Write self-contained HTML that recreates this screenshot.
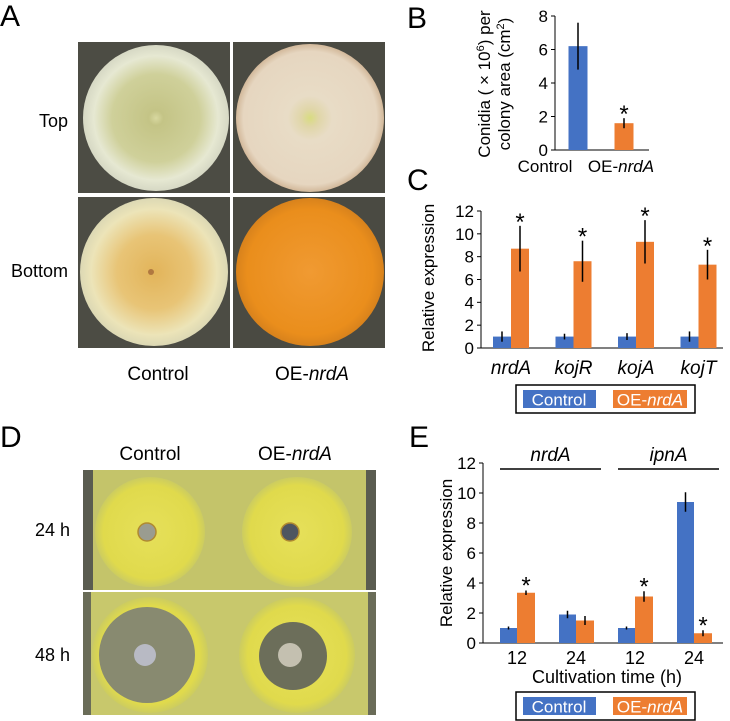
<!DOCTYPE html>
<html><head><meta charset="utf-8"><style>
html,body{margin:0;padding:0;background:#fff;}
svg{display:block;font-family:"Liberation Sans",Arial,sans-serif;}
</style></head><body>
<svg id="fig" width="730" height="721" viewBox="0 0 730 721" xmlns="http://www.w3.org/2000/svg">
<defs>
<radialGradient id="gTL"><stop offset="0" stop-color="#d8d8a0"/><stop offset="0.1" stop-color="#c4c486"/><stop offset="0.6" stop-color="#cfd09a"/><stop offset="0.85" stop-color="#e6e8d2"/><stop offset="1" stop-color="#d6d8c4"/></radialGradient>
<radialGradient id="gTR"><stop offset="0" stop-color="#d8dc80"/><stop offset="0.12" stop-color="#e0d6a8"/><stop offset="0.3" stop-color="#e8dcc6"/><stop offset="0.9" stop-color="#e6d6c0"/><stop offset="1" stop-color="#d2b89a"/></radialGradient>
<radialGradient id="gBL"><stop offset="0" stop-color="#e2b45a"/><stop offset="0.5" stop-color="#e8c476"/><stop offset="0.85" stop-color="#ece4b8"/><stop offset="1" stop-color="#dcd8b4"/></radialGradient>
<radialGradient id="gBR"><stop offset="0" stop-color="#f09a32"/><stop offset="0.85" stop-color="#ea8e1c"/><stop offset="1" stop-color="#d8821c"/></radialGradient>
<radialGradient id="gHalo"><stop offset="0" stop-color="#e6e05a"/><stop offset="0.85" stop-color="#e0da4c"/><stop offset="1" stop-color="#cccc60"/></radialGradient>
</defs>

<!-- Panel A -->
<text x="0" y="26" font-size="30">A</text>
<g>
<rect x="78" y="42" width="307" height="306" fill="#fff"/>
<rect x="78" y="42" width="152" height="151" fill="#4c4c44"/>
<circle cx="156" cy="118" r="73" fill="url(#gTL)"/>
<rect x="233" y="42" width="152" height="151" fill="#4a4a42"/>
<circle cx="310" cy="118" r="74" fill="url(#gTR)"/>
<rect x="78" y="197" width="152" height="151" fill="#4c4c44"/>
<circle cx="154" cy="272" r="74" fill="url(#gBL)"/>
<circle cx="151" cy="272" r="3" fill="#b07840"/>
<rect x="233" y="197" width="152" height="151" fill="#4a4a42"/>
<circle cx="310" cy="272" r="74" fill="url(#gBR)"/>
</g>
<text x="68" y="127" font-size="18" text-anchor="end">Top</text>
<text x="68" y="277" font-size="18" text-anchor="end">Bottom</text>
<text x="158" y="380" font-size="19" text-anchor="middle">Control</text>
<text x="312" y="380" font-size="19" text-anchor="middle">OE-<tspan font-style="italic">nrdA</tspan></text>

<!-- Panel D -->
<text x="0" y="447" font-size="30">D</text>
<text x="150" y="460" font-size="19" text-anchor="middle">Control</text>
<text x="295" y="460" font-size="19" text-anchor="middle">OE-<tspan font-style="italic">nrdA</tspan></text>
<text x="70" y="536" font-size="18" text-anchor="end">24 h</text>
<text x="70" y="661" font-size="18" text-anchor="end">48 h</text>
<g>
<rect x="83" y="470" width="293" height="120" fill="#c4c46a"/>
<rect x="83" y="470" width="10" height="120" fill="#5a5c50"/>
<rect x="366" y="470" width="10" height="120" fill="#5a5c50"/>
<circle cx="150" cy="532" r="55" fill="url(#gHalo)"/>
<circle cx="297" cy="532" r="55" fill="url(#gHalo)"/>
<circle cx="147" cy="532" r="9" fill="#9a9c90" stroke="#b08a30" stroke-width="1.5"/>
<circle cx="290" cy="532" r="9" fill="#4e5660" stroke="#b08a30" stroke-width="1.5"/>
<rect x="83" y="592" width="293" height="123" fill="#c8c86c"/>
<rect x="83" y="592" width="8" height="123" fill="#6a6c58"/>
<rect x="368" y="592" width="8" height="123" fill="#6a6c58"/>
<circle cx="150" cy="655" r="58" fill="url(#gHalo)"/>
<circle cx="147" cy="655" r="48" fill="#888a70"/>
<circle cx="297" cy="655" r="58" fill="url(#gHalo)"/>
<circle cx="293" cy="656" r="34" fill="#6c6e5a"/>
<circle cx="145" cy="655" r="11" fill="#b8bac4"/>
<circle cx="290" cy="655" r="12" fill="#c4c0b0"/>
</g>

<!-- Panel letters B, C, E -->
<text x="407" y="28" font-size="30">B</text>
<text x="407" y="190" font-size="30">C</text>
<text x="409" y="447" font-size="30">E</text>
<g id="chartB"></g>
<g id="chartC"></g>
<g id="chartE"></g>
</svg>
<script>
const bCategories = ["Control", "OE-nrdA"];
const bValues = [6.2, 1.6];
const bErrors = [1.4, 0.3];
const bStars = [false, true];
const bTicks = [0, 2, 4, 6, 8];

const cCategories = ["nrdA", "kojR", "kojA", "kojT"];
const cControl = [1, 1, 1, 1];
const cControlErr = [0.45, 0.25, 0.3, 0.45];
const cOE = [8.7, 7.6, 9.3, 7.3];
const cOEErr = [2.0, 1.8, 1.9, 1.3];
const cTicks = [0, 2, 4, 6, 8, 10, 12];

const eCategories = ["12", "24", "12", "24"];
const eGenes = ["nrdA", "ipnA"];
const eControl = [1, 1.9, 1, 9.4];
const eControlErr = [0.1, 0.25, 0.1, 0.65];
const eOE = [3.35, 1.5, 3.1, 0.65];
const eOEErr = [0.15, 0.3, 0.35, 0.2];
const eStars = [true, false, true, true];
const eTicks = [0, 2, 4, 6, 8, 10, 12];

const NS = "http://www.w3.org/2000/svg";
const BLUE = "#4472c4", ORANGE = "#ed7d31";
function mk(parent, tag, attrs, txt) {
  const e = document.createElementNS(NS, tag);
  for (const k in attrs) e.setAttribute(k, attrs[k]);
  if (txt !== undefined) e.textContent = txt;
  parent.appendChild(e);
  return e;
}
function yScale(y0px, y1px, max) { return v => y0px - (v / max) * (y0px - y1px); }

function axes(g, x0, x1, y, ticks, max, fs) {
  let e = mk(g, "line", {x1: x0, y1: y(0), x2: x0, y2: y(max), stroke: "#000", "stroke-width": 1});
  
  
  e = mk(g, "line", {x1: x0, y1: y(0), x2: x1, y2: y(0), stroke: "#000", "stroke-width": 1});
  
  
  ticks.forEach(t => {
    mk(g, "line", {x1: x0 - 4, y1: y(t), x2: x0, y2: y(t), stroke: "#000"});
    const tl = mk(g, "text", {x: x0 - 7, y: y(t) + 6, "font-size": fs, "text-anchor": "end"}, String(t));
    
    
  });
}
function bar(g, x, w, v, err, y, color, name) {
  const r = mk(g, "rect", {x: x, y: y(v), width: w, height: y(0) - y(v), fill: color});
  
  
  const l = mk(g, "line", {x1: x + w / 2, y1: y(v - err), x2: x + w / 2, y2: y(v + err), stroke: "#000", "stroke-width": 1.5});
  
  
}
function star(g, x, yy) {
  const s = mk(g, "text", {x: x, y: yy, "font-size": 24, "text-anchor": "middle"}, "*");
  
  
}
function legend(g, x, y) {
  const b = mk(g, "rect", {x: x, y: y, width: 179, height: 28, fill: "#fff", stroke: "#000", "stroke-width": 1.5});
  
  
  let r = mk(g, "rect", {x: x + 7, y: y + 5, width: 73, height: 18, fill: BLUE});
  
  
  mk(g, "text", {x: x + 43, y: y + 20.5, "font-size": 17, fill: "#fff", "text-anchor": "middle"}, "Control");
  r = mk(g, "rect", {x: x + 97, y: y + 5, width: 74, height: 18, fill: ORANGE});
  
  
  const t = mk(g, "text", {x: x + 134, y: y + 20.5, "font-size": 17, fill: "#fff", "text-anchor": "middle"});
  t.innerHTML = 'OE-<tspan font-style="italic">nrdA</tspan>';
}

// Chart B
(function () {
  const g = document.getElementById("chartB");
  const y = yScale(150, 16, 8);
  axes(g, 555, 649, y, bTicks, 8, 17);
  const cx = [578, 624];
  bValues.forEach((v, i) => {
    bar(g, cx[i] - 9.5, 19, v, bErrors[i], y, i === 0 ? BLUE : ORANGE, "bar-" + (i === 0 ? "control" : "oe"));
    if (bStars[i]) star(g, cx[i], y(v + bErrors[i]) + 4);
  });
  let t = mk(g, "text", {x: 545, y: 172, "font-size": 17, "text-anchor": "middle"}, "Control");
  
  
  t = mk(g, "text", {x: 621, y: 172, "font-size": 17, "text-anchor": "middle"});
  t.innerHTML = 'OE-<tspan font-style="italic">nrdA</tspan>';
  
  
  const t1 = mk(g, "text", {transform: "translate(490,84) rotate(-90)", "font-size": 17, "text-anchor": "middle"});
  t1.innerHTML = 'Conidia ( × 10<tspan font-size="11" dy="-6">6</tspan><tspan dy="6">) per</tspan>';
  
  
  const t2 = mk(g, "text", {transform: "translate(510,84) rotate(-90)", "font-size": 17, "text-anchor": "middle"});
  t2.innerHTML = 'colony area (cm<tspan font-size="11" dy="-6">2</tspan><tspan dy="6">)</tspan>';
})();

// Chart C
(function () {
  const g = document.getElementById("chartC");
  const y = yScale(348, 211, 12);
  axes(g, 481, 723, y, cTicks, 12, 17);
  cCategories.forEach((c, i) => {
    const gx = 511 + i * 62.5;
    bar(g, gx - 18, 18, cControl[i], cControlErr[i], y, BLUE, "bar-control-" + c);
    bar(g, gx, 18, cOE[i], cOEErr[i], y, ORANGE, "bar-oe-" + c);
    star(g, gx + 9, y(cOE[i] + cOEErr[i]) + 4);
    const t = mk(g, "text", {x: gx, y: 374, "font-size": 19, "font-style": "italic", "text-anchor": "middle"}, c);
    
    
  });
  const t = mk(g, "text", {transform: "translate(434,278) rotate(-90)", "font-size": 17, "text-anchor": "middle"}, "Relative expression");
  
  
  legend(g, 516, 385);
})();

// Chart E
(function () {
  const g = document.getElementById("chartE");
  const y = yScale(643, 463, 12);
  axes(g, 483, 723, y, eTicks, 12, 17);
  eCategories.forEach((c, i) => {
    const gx = 517 + i * 59;
    bar(g, gx - 17, 17, eControl[i], eControlErr[i], y, BLUE, "bar-control-" + i);
    bar(g, gx, 18, eOE[i], eOEErr[i], y, ORANGE, "bar-oe-" + i);
    if (eStars[i]) star(g, gx + 9, y(eOE[i] + eOEErr[i]) + 3);
    const t = mk(g, "text", {x: gx, y: 664, "font-size": 18, "text-anchor": "middle"}, c);
    
    
  });
  eGenes.forEach((gname, j) => {
    const xa = 500 + j * 118, xb = xa + 101;
    const l = mk(g, "line", {x1: xa, y1: 469, x2: xb, y2: 469, stroke: "#000", "stroke-width": 1.5});
    
    
    const t = mk(g, "text", {x: (xa + xb) / 2, y: 461, "font-size": 19, "font-style": "italic", "text-anchor": "middle"}, gname);
    
    
  });
  let t = mk(g, "text", {x: 607, y: 683, "font-size": 18, "text-anchor": "middle"}, "Cultivation time (h)");
  
  
  t = mk(g, "text", {transform: "translate(452,553) rotate(-90)", "font-size": 17, "text-anchor": "middle"}, "Relative expression");
  
  
  legend(g, 516, 692);
})();
</script>
</body></html>
